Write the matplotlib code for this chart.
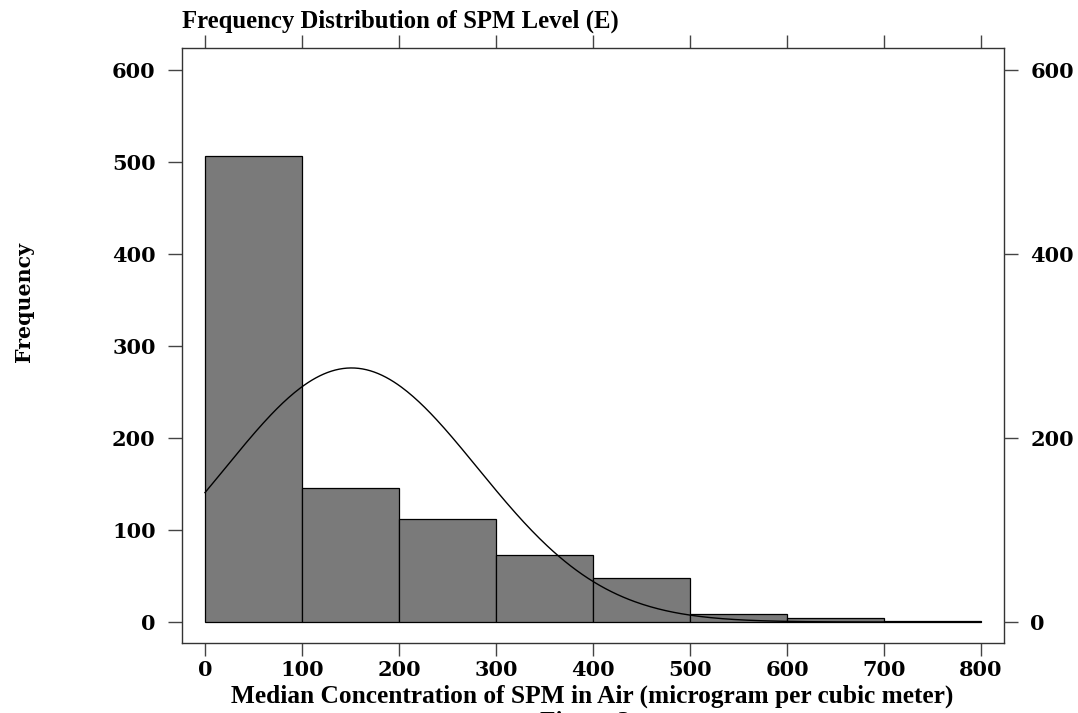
import numpy as np
import matplotlib
matplotlib.use("Agg")
import matplotlib.pyplot as plt

# Data
bin_edges = [0, 100, 200, 300, 400, 500, 600, 700, 800]
counts = [507, 146, 112, 73, 48, 9, 4, 1]
fit_mean = 151.0
fit_sd = 130.0
n_total = sum(counts)
x_ticks = [0, 100, 200, 300, 400, 500, 600, 700, 800]
y_ticks_left = [0, 100, 200, 300, 400, 500, 600]
y_ticks_right = [0, 200, 400, 600]

title = "Frequency Distribution of SPM Level (E)"
xlabel = "Median Concentration of SPM in Air (microgram per cubic meter)"
ylabel = "Frequency"
footer = "Figure 3"

W, H = 1078, 713
fig = plt.figure(figsize=(W / 100, H / 100), dpi=100)
L, R, T, B = 182, 1004, 48, 643
ax = fig.add_axes([L / W, 1 - B / H, (R - L) / W, (B - T) / H])

widths = np.diff(bin_edges)
ax.bar(bin_edges[:-1], counts, width=widths, align="edge",
       color="#7a7a7a", edgecolor="black", linewidth=0.9)

xs = np.linspace(bin_edges[0], bin_edges[-1], 400)
binw = widths[0]
ys = n_total * binw / (fit_sd * np.sqrt(2 * np.pi)) * np.exp(-0.5 * ((xs - fit_mean) / fit_sd) ** 2)
ax.plot(xs, ys, color="black", linewidth=1.0)

ax.set_xlim(-23.7, 823.7)
ax.set_ylim(-22.8, 624)

tick_font = dict(family="DejaVu Serif", weight="bold", size=15)
ax.set_xticks(x_ticks)
ax.set_xticklabels([str(v) for v in x_ticks], fontdict=tick_font)
ax.set_yticks(y_ticks_left)
ax.set_yticklabels([str(v) for v in y_ticks_left], fontdict=tick_font)
ax.tick_params(axis="x", direction="out", length=9.5, width=1, pad=3,
               top=True, labeltop=False, color="#444444")
ax.tick_params(axis="y", direction="out", length=10, width=1, pad=9, color="#444444")

for s in ax.spines.values():
    s.set_linewidth(1.0)
    s.set_color("#333333")

ax2 = ax.twinx()
ax2.set_ylim(ax.get_ylim())
ax2.set_yticks(y_ticks_right)
ax2.set_yticklabels([str(v) for v in y_ticks_right], fontdict=tick_font)
ax2.tick_params(axis="y", direction="out", length=10, width=1, pad=9, color="#444444")
for s in ax2.spines.values():
    s.set_visible(False)

fig.text(L / W, 1 - 28 / H, title, family="Liberation Serif", weight="bold",
         size=17.8, ha="left", va="baseline")
fig.text(592 / W, 1 - 703 / H, xlabel, family="Liberation Serif", weight="bold",
         size=18.3, ha="center", va="baseline")
fig.text(24 / W, 1 - 302 / H, ylabel, family="DejaVu Serif", weight="bold",
         size=14.8, rotation=90, ha="center", va="center")
fig.text(585 / W, 1 - 729 / H, footer, family="Liberation Serif", weight="bold",
         size=18.3, ha="center", va="baseline")

fig.savefig("out.png", dpi=100)
